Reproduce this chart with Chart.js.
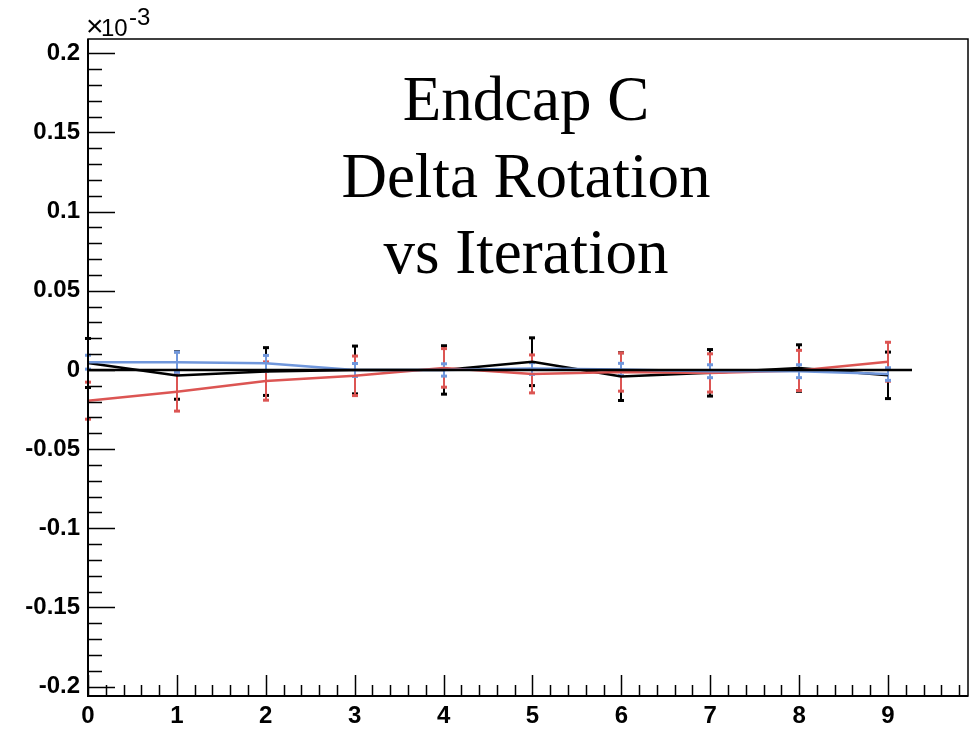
<!DOCTYPE html>
<html>
<head>
<meta charset="utf-8">
<script src="https://cdn.jsdelivr.net/npm/chart.js@4.4.1/dist/chart.umd.min.js"></script>
<style>
  html, body { margin: 0; padding: 0; background: #fff; }
  #wrap { width: 973px; height: 730px; }
</style>
</head>
<body>
<div id="wrap"><canvas id="deltaRot" width="973" height="730"></canvas></div>
<script>
// iteration index and per-iteration delta rotation (axis units of 1e-3)
const iterations = [0, 1, 2, 3, 4, 5, 6, 7, 8, 9];
const blackVals = [0.0044, -0.0035, -0.001, 0.0, 0.0, 0.0052, -0.0042, -0.0018, 0.0012, -0.0034];
const blackErrs = [0.0158, 0.0153, 0.0154, 0.0154, 0.0156, 0.0154, 0.0154, 0.015, 0.015, 0.015];
const redVals = [-0.0194, -0.0137, -0.007, -0.0037, 0.0013, -0.0025, -0.0013, -0.0019, -0.0003, 0.0052];
const redErrs = [0.012, 0.0126, 0.0124, 0.0128, 0.0125, 0.0123, 0.0124, 0.0124, 0.013, 0.0126];
const blueVals = [0.0049, 0.0049, 0.0042, 0.0, 0.0, 0.0009, 0.0003, -0.0008, -0.0008, -0.0026];
const blueErrs = [0.0047, 0.0067, 0.0053, 0.0044, 0.0042, 0.004, 0.0042, 0.0044, 0.0044, 0.0043];
// reference line at zero
const zeroLineX = [0, 9.27];
const zeroLineY = [0, 0];

const xTicks = [0, 1, 2, 3, 4, 5, 6, 7, 8, 9];
const yTicks = [-0.2, -0.15, -0.1, -0.05, 0, 0.05, 0.1, 0.15, 0.2];
const titleLines = ['Endcap C', 'Delta Rotation', 'vs Iteration'];

const RED = '#dc5553';
const BLUE = '#7097dc';

const pts = (xs, ys) => xs.map((x, i) => ({ x: x, y: ys[i] }));

const series = [
    { vals: blackVals, errs: blackErrs, color: '#000' },
    { vals: redVals, errs: redErrs, color: RED },
    { vals: blueVals, errs: blueErrs, color: BLUE },
];

// vertical error bars with small end caps
const errorBars = {
    id: 'errorBars',
    beforeDatasetsDraw(chart) {
        const ctx = chart.ctx;
        const xs = chart.scales.x, ys = chart.scales.y;
        ctx.save();
        series.forEach(s => {
            ctx.strokeStyle = s.color;
            ctx.fillStyle = s.color;
            ctx.lineWidth = 2;
            iterations.forEach((it, i) => {
                const px = Math.round(xs.getPixelForValue(it));
                const top = ys.getPixelForValue(s.vals[i] + s.errs[i]);
                const bot = ys.getPixelForValue(s.vals[i] - s.errs[i]);
                ctx.beginPath();
                ctx.moveTo(px, top);
                ctx.lineTo(px, bot);
                ctx.stroke();
                ctx.fillRect(px - 3, top - 1, 6, 3);
                ctx.fillRect(px - 3, bot - 2, 6, 3);
            });
        });
        ctx.restore();
    }
};

// frame, inward ticks, exponent and title text
const frame = {
    id: 'frame',
    afterDraw(chart) {
        const ctx = chart.ctx;
        const a = chart.chartArea;
        const xs = chart.scales.x, ys = chart.scales.y;
        ctx.save();
        ctx.strokeStyle = '#000';
        ctx.lineWidth = 1.5;
        ctx.strokeRect(a.left, a.top, a.right - a.left, a.bottom - a.top);
        ctx.lineWidth = 2;
        ctx.beginPath();
        ctx.moveTo(a.left, a.top);
        ctx.lineTo(a.left, a.bottom);
        ctx.lineTo(a.right, a.bottom);
        ctx.stroke();

        ctx.lineWidth = 1.5;
        ctx.beginPath();
        for (let k = -20; k <= 20; k++) {
            const py = Math.round(ys.getPixelForValue(k / 100)) + 0.5;
            const len = k % 5 === 0 ? 27 : 14;
            ctx.moveTo(a.left, py);
            ctx.lineTo(a.left + len, py);
        }
        for (let k = 0; k <= 49; k++) {
            const px = Math.round(xs.getPixelForValue(k / 5)) + 0.5;
            const len = k % 5 === 0 ? 21 : 11;
            ctx.moveTo(px, a.bottom);
            ctx.lineTo(px, a.bottom - len);
        }
        ctx.stroke();

        // axis exponent
        ctx.fillStyle = '#000';
        ctx.textAlign = 'left';
        ctx.textBaseline = 'alphabetic';
        ctx.font = '30px "Liberation Sans", Arial, sans-serif';
        ctx.fillText('\u00d7', 86, 36);
        ctx.font = '24px "Liberation Sans", Arial, sans-serif';
        ctx.fillText('10', 101, 36);
        ctx.fillText('-3', 129, 25);

        ctx.textAlign = 'center';
        ctx.font = '63px "Liberation Serif", "Times New Roman", serif';
        titleLines.forEach((t, i) => ctx.fillText(t, 526, 120 + i * 76.5));
        ctx.restore();
    }
};

new Chart(document.getElementById('deltaRot'), {
    type: 'line',
    data: {
        datasets: [
            {
                label: 'zero',
                data: pts(zeroLineX, zeroLineY),
                borderColor: '#000',
                borderWidth: 2.5,
                order: 0
            },
            {
                label: 'blue',
                data: pts(iterations, blueVals),
                borderColor: BLUE,
                borderWidth: 2.5,
                order: 1
            },
            {
                label: 'red',
                data: pts(iterations, redVals),
                borderColor: RED,
                borderWidth: 2.5,
                order: 2
            },
            {
                label: 'black',
                data: pts(iterations, blackVals),
                borderColor: '#000',
                borderWidth: 2.5,
                order: 3
            }
        ]
    },
    options: {
        responsive: false,
        animation: false,
        clip: false,
        elements: {
            point: { radius: 0 },
            line: { tension: 0, fill: false }
        },
        layout: { padding: { top: 39, right: 5, left: 0, bottom: 0 } },
        plugins: {
            legend: { display: false },
            tooltip: { enabled: false },
            title: { display: false }
        },
        scales: {
            x: {
                type: 'linear',
                min: 0,
                max: 9.9,
                afterBuildTicks: s => { s.ticks = xTicks.map(v => ({ value: v })); },
                afterFit: s => { s.height = 34; },
                grid: { display: false, drawTicks: false },
                border: { display: false },
                ticks: {
                    padding: 6,
                    color: '#000',
                    font: { family: '"Liberation Sans", Arial, sans-serif', size: 24, weight: 'bold' },
                    maxRotation: 0,
                    callback: v => String(v)
                }
            },
            y: {
                type: 'linear',
                min: -0.2059,
                max: 0.209,
                afterBuildTicks: s => { s.ticks = yTicks.map(v => ({ value: v })); },
                afterFit: s => { s.width = 88; },
                grid: { display: false, drawTicks: false },
                border: { display: false },
                ticks: {
                    padding: 8,
                    color: '#000',
                    font: { family: '"Liberation Sans", Arial, sans-serif', size: 24, weight: 'bold' },
                    callback: v => String(Number(v.toFixed(2)))
                }
            }
        }
    },
    plugins: [errorBars, frame]
});
</script>
</body>
</html>
